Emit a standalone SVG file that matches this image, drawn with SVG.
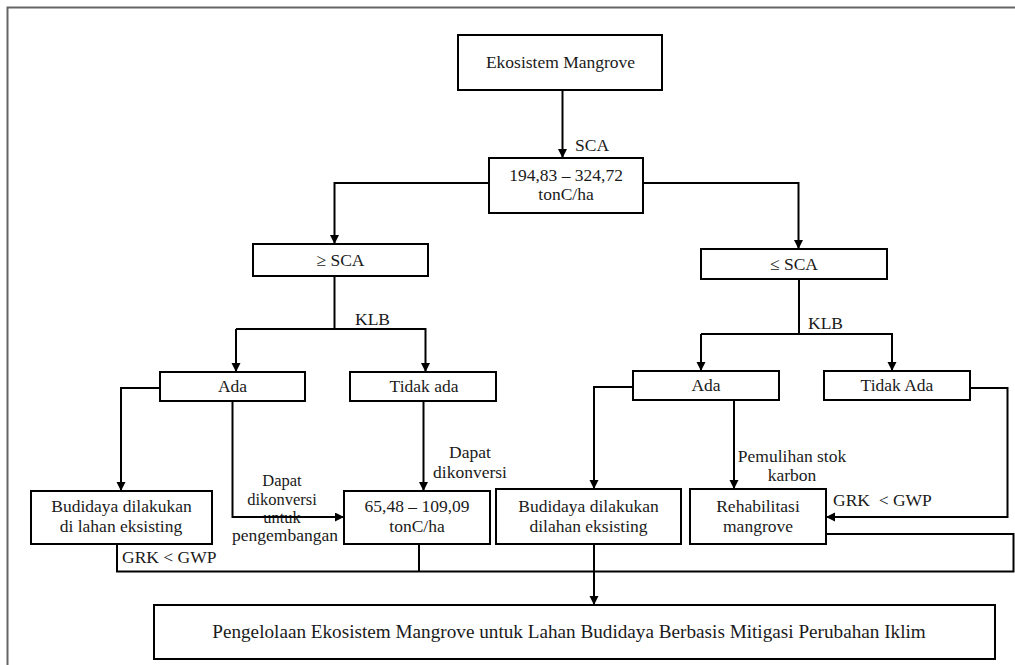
<svg xmlns="http://www.w3.org/2000/svg" width="1015" height="665" viewBox="0 0 1015 665">
<style>
.box{fill:#fff;stroke:#000;stroke-width:2}
.t{font-family:"Liberation Serif","Times New Roman",serif;font-size:17.5px;fill:#1a1a1a;text-anchor:middle}
.s{font-size:16.5px}
.l{font-family:"Liberation Serif","Times New Roman",serif;font-size:17.5px;fill:#1a1a1a}
.c{fill:none;stroke:#000;stroke-width:2}
.a{marker-end:url(#arr)}
</style>
<defs>
<marker id="arr" markerUnits="userSpaceOnUse" markerWidth="10" markerHeight="10" refX="9" refY="4.5" orient="auto">
<path d="M0,0 L9,4.5 L0,9 z" fill="#000"/>
</marker>
</defs>
<rect width="1015" height="665" fill="#fff"/>
<path d="M7.5,665 V7.5 H1015" fill="none" stroke="#666" stroke-width="2"/>

<g id="labels">
<text class="l" x="575" y="151">SCA</text>
<text class="l" x="355" y="325">KLB</text>
<text class="l" x="808" y="329">KLB</text>
<text class="t s" x="282" y="486">Dapat</text>
<text class="t s" x="282" y="504.5">dikonversi</text>
<text class="t s" x="282" y="522.5">untuk</text>
<text class="t" x="285" y="541">pengembangan</text>
<text class="t" x="470" y="458">Dapat</text>
<text class="t" x="470" y="478">dikonversi</text>
<text class="t" x="792" y="462">Pemulihan stok</text>
<text class="t" x="792" y="481">karbon</text>
<text class="l" x="833" y="506" xml:space="preserve">GRK  &lt; GWP</text>
<text class="l" x="122" y="563">GRK &lt; GWP</text>
</g>

<g id="connectors">
<path class="c a" d="M562.5,90 V158"/>
<path class="c a" d="M489,183 H334.5 V244"/>
<path class="c a" d="M643,183 H798.5 V249"/>
<path class="c" d="M334.5,276 V329"/>
<path class="c a" d="M236,329 H425.5 V372"/>
<path class="c a" d="M236,329 V372"/>
<path class="c" d="M799,279 V334"/>
<path class="c a" d="M701,334 H892 V371"/>
<path class="c a" d="M701,334 V371"/>
<path class="c a" d="M160,388 H121 V491"/>
<path class="c a" d="M232.5,401 V517 H344"/>
<path class="c a" d="M423.5,401 V491"/>
<path class="c a" d="M633,387 H594 V489"/>
<path class="c a" d="M734,400 V489"/>
<path class="c a" d="M970,388 H1007.5 V517 H826"/>
<path class="c" d="M826,534 H1013.5 V571.5 H117 V544"/>
<path class="c" d="M419,544 V571.5"/>
<path class="c a" d="M594,544 V605"/>
</g>

<g id="n1"><rect class="box" x="458" y="35" width="204" height="55"/><text class="t" x="560.5" y="68">Ekosistem Mangrove</text></g>
<g id="n2"><rect class="box" x="489" y="158" width="154" height="55"/><text class="t" x="566" y="180.5">194,83 – 324,72</text><text class="t" x="566" y="200">tonC/ha</text></g>
<g id="n3"><rect class="box" x="253" y="244" width="175" height="32"/><text class="t" x="340.5" y="266">≥ SCA</text></g>
<g id="n4"><rect class="box" x="701" y="249" width="186" height="30"/><text class="t" x="794" y="270">≤ SCA</text></g>
<g id="n5"><rect class="box" x="160" y="372" width="145" height="29"/><text class="t" x="232.5" y="392">Ada</text></g>
<g id="n6"><rect class="box" x="350" y="372" width="146" height="29"/><text class="t" x="424" y="392">Tidak ada</text></g>
<g id="n7"><rect class="box" x="633" y="371" width="146" height="29"/><text class="t" x="706" y="391">Ada</text></g>
<g id="n8"><rect class="box" x="824" y="371" width="146" height="29"/><text class="t" x="897" y="391">Tidak Ada</text></g>
<g id="n9"><rect class="box" x="31" y="491" width="181" height="53"/><text class="t" x="121.5" y="512">Budidaya dilakukan</text><text class="t" x="121" y="532">di lahan eksisting</text></g>
<g id="n10"><rect class="box" x="344" y="491" width="146" height="53"/><text class="t" x="417" y="512">65,48 – 109,09</text><text class="t" x="417" y="531.5">tonC/ha</text></g>
<g id="n11"><rect class="box" x="496" y="489" width="185" height="55"/><text class="t" x="588.5" y="511.5">Budidaya dilakukan</text><text class="t" x="588.5" y="531.5">dilahan eksisting</text></g>
<g id="n12"><rect class="box" x="690" y="489" width="136" height="55"/><text class="t" x="758" y="511.5">Rehabilitasi</text><text class="t" x="758" y="531.5">mangrove</text></g>
<g id="n13"><rect class="box" x="154" y="605" width="841" height="54"/><text class="t" x="569" y="638" style="font-size:19.2px">Pengelolaan Ekosistem Mangrove untuk Lahan Budidaya Berbasis Mitigasi Perubahan Iklim</text></g>
</svg>
